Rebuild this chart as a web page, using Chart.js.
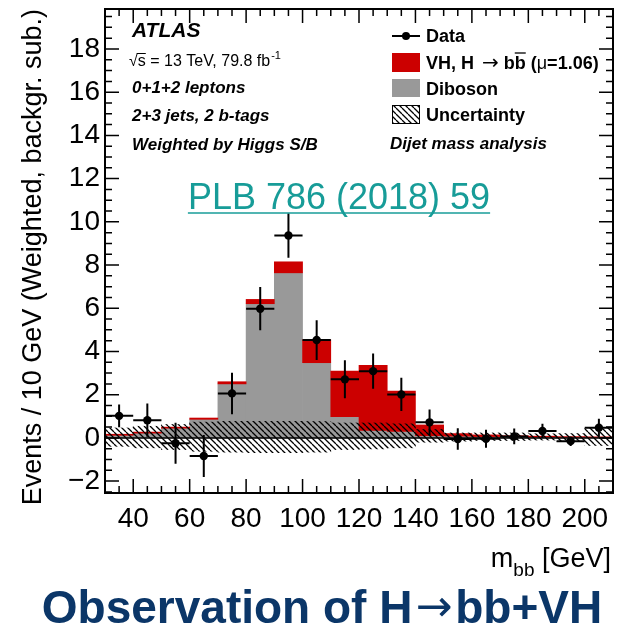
<!DOCTYPE html>
<html>
<head>
<meta charset="utf-8">
<script src="https://cdn.jsdelivr.net/npm/chart.js@4.4.1/dist/chart.umd.min.js"></script>
<style>
  html, body { margin: 0; padding: 0; background: #fff; }
  canvas { display: block; }
</style>
</head>
<body>
<canvas id="c" width="623" height="627"></canvas>
<script>
// m_bb bins, 10 GeV wide, centres
const binCentres = [35, 45, 55, 65, 75, 85, 95, 105, 115, 125, 135, 145, 155, 165, 175, 185, 195, 205];
// data (weighted, background subtracted) and its error
const dataValues = [1.02, 0.82, -0.25, -0.84, 2.06, 5.98, 9.37, 4.53, 2.71, 3.09, 2.01, 0.72, -0.05, -0.04, 0.07, 0.32, -0.15, 0.47];
const dataErrors = [0.53, 0.77, 0.95, 0.97, 0.96, 1.0, 1.03, 0.92, 0.88, 0.82, 0.77, 0.6, 0.5, 0.42, 0.36, 0.33, 0.22, 0.42];
// stacked expectation: diboson, then VH signal on top
const dibosonValues = [0.12, 0.22, 0.45, 0.86, 2.5, 6.21, 7.64, 3.48, 0.98, 0.35, 0.3, 0.1, 0.08, 0.06, 0.05, 0.04, 0.03, 0.02];
const vhValues = [0.05, 0.05, 0.05, 0.06, 0.1, 0.2, 0.51, 1.06, 2.11, 3.01, 1.87, 0.5, 0.12, 0.08, 0.05, 0.04, 0.03, 0.03];
// uncertainty band
const uncLow = [-0.39, -0.46, -0.54, -0.62, -0.66, -0.68, -0.68, -0.66, -0.54, -0.51, -0.46, -0.2, -0.15, -0.12, -0.12, -0.1, -0.15, -0.35];
const uncHigh = [0.46, 0.54, 0.62, 0.73, 0.77, 0.77, 0.77, 0.76, 0.69, 0.69, 0.65, 0.39, 0.23, 0.23, 0.23, 0.19, 0.2, 0.46];
// axis labels
const xTickLabels = [40, 60, 80, 100, 120, 140, 160, 180, 200];
const yTickLabels = [-2, 0, 2, 4, 6, 8, 10, 12, 14, 16, 18];

const FONT = '"Liberation Sans", Arial, Helvetica, sans-serif';
const ARROW_FONT = '"DejaVu Sans", sans-serif';
const RED = '#cc0000';
const GREY = '#999999';

function makeHatch() {
  const c = document.createElement('canvas');
  c.width = 6; c.height = 6;
  const g = c.getContext('2d');
  g.strokeStyle = '#000';
  g.lineWidth = 1.3;
  g.beginPath();
  for (const k of [-6, 0, 6]) { g.moveTo(k, 0); g.lineTo(k + 6, 6); }
  g.stroke();
  return g.createPattern(c, 'repeat');
}
const hatch = makeHatch();

function text(ctx, s, x, y, font, color, align) {
  ctx.font = font;
  ctx.fillStyle = color || '#000';
  ctx.textAlign = align || 'left';
  ctx.textBaseline = 'alphabetic';
  ctx.fillText(s, x, y);
  return ctx.measureText(s).width;
}
function measure(ctx, s, font) {
  ctx.font = font;
  return ctx.measureText(s).width;
}

// error bars + zero line, drawn just before the data markers
const errorBars = {
  id: 'errorBars',
  beforeDatasetDraw(chart, args) {
    if (args.index !== 0) return;
    const { ctx, chartArea: a, scales: { x, y } } = chart;
    ctx.save();
    ctx.beginPath();
    ctx.rect(a.left, a.top, a.right - a.left, a.bottom - a.top);
    ctx.clip();
    ctx.strokeStyle = '#000';
    ctx.lineWidth = 1.5;
    ctx.beginPath();
    ctx.moveTo(a.left, y.getPixelForValue(0));
    ctx.lineTo(a.right, y.getPixelForValue(0));
    ctx.stroke();
    ctx.lineWidth = 2;
    binCentres.forEach((c, i) => {
      const px = x.getPixelForValue(c);
      const py = y.getPixelForValue(dataValues[i]);
      ctx.beginPath();
      ctx.moveTo(x.getPixelForValue(c - 5), py);
      ctx.lineTo(x.getPixelForValue(c + 5), py);
      ctx.moveTo(px, y.getPixelForValue(dataValues[i] - dataErrors[i]));
      ctx.lineTo(px, y.getPixelForValue(dataValues[i] + dataErrors[i]));
      ctx.stroke();
    });
    ctx.restore();
  }
};

// ROOT-style frame with inward ticks on all sides, plus labels and legend
const rootFrame = {
  id: 'rootFrame',
  afterDraw(chart) {
    const { ctx, chartArea: a, scales: { x, y } } = chart;
    ctx.save();
    ctx.strokeStyle = '#000';
    ctx.lineWidth = 1.5;
    ctx.beginPath();
    for (let v = 30; v <= 210; v += 5) {
      const px = x.getPixelForValue(v);
      const len = v % 20 === 0 ? 14 : 7;
      ctx.moveTo(px, a.bottom); ctx.lineTo(px, a.bottom - len);
      ctx.moveTo(px, a.top); ctx.lineTo(px, a.top + len);
    }
    for (let v = -2.5; v <= 19.5; v += 0.5) {
      const py = y.getPixelForValue(v);
      const len = v % 2 === 0 ? 14 : 7;
      ctx.moveTo(a.left, py); ctx.lineTo(a.left + len, py);
      ctx.moveTo(a.right, py); ctx.lineTo(a.right - len, py);
    }
    ctx.stroke();
    ctx.lineWidth = 2;
    ctx.strokeRect(a.left, a.top, a.right - a.left, a.bottom - a.top);

    // x axis title m_bb [GeV]
    const w1 = measure(ctx, ' [GeV]', '27px ' + FONT);
    const wSub = measure(ctx, 'bb', '19px ' + FONT);
    const xr = 611;
    text(ctx, ' [GeV]', xr, 567, '27px ' + FONT, '#000', 'right');
    text(ctx, 'bb', xr - w1, 576, '19px ' + FONT, '#000', 'right');
    text(ctx, 'm', xr - w1 - wSub, 567, '27px ' + FONT, '#000', 'right');

    // left-hand labels
    text(ctx, 'ATLAS', 132, 37, 'italic bold 21px ' + FONT);
    let cx = 129;
    cx += text(ctx, '\u221a', cx, 66, '16px ' + FONT);
    const ws = text(ctx, 's', cx, 66, '16px ' + FONT);
    ctx.lineWidth = 1;
    ctx.beginPath(); ctx.moveTo(cx - 1, 53.5); ctx.lineTo(cx + ws, 53.5); ctx.stroke();
    cx += ws;
    cx += text(ctx, ' = 13 TeV, 79.8 fb', cx, 66, '16px ' + FONT);
    text(ctx, '-1', cx + 1, 59, '11px ' + FONT);
    text(ctx, '0+1+2 leptons', 132, 93, 'italic bold 17px ' + FONT);
    text(ctx, '2+3 jets, 2 b-tags', 132, 121, 'italic bold 17px ' + FONT);
    text(ctx, 'Weighted by Higgs S/B', 132, 150, 'italic bold 17px ' + FONT);
    text(ctx, 'Dijet mass analysis', 390, 149, 'italic bold 17px ' + FONT);

    // legend
    const LF = 'bold 18px ' + FONT;
    ctx.lineWidth = 2;
    ctx.beginPath(); ctx.moveTo(392, 36); ctx.lineTo(420, 36); ctx.stroke();
    ctx.fillStyle = '#000';
    ctx.beginPath(); ctx.arc(406, 36, 4, 0, Math.PI * 2); ctx.fill();
    text(ctx, 'Data', 426, 42, LF);
    ctx.fillStyle = RED; ctx.fillRect(392, 53, 28, 19);
    cx = 426;
    cx += text(ctx, 'VH, H', cx, 69, LF);
    cx += 8;
    cx += text(ctx, '\u2192', cx, 69, '20px ' + ARROW_FONT);
    cx += 5;
    cx += text(ctx, 'b', cx, 69, LF);
    const wb = text(ctx, 'b', cx, 69, LF);
    ctx.strokeStyle = '#000';
    ctx.lineWidth = 1.3;
    ctx.beginPath(); ctx.moveTo(cx, 53); ctx.lineTo(cx + wb, 53); ctx.stroke();
    cx += wb;
    cx += text(ctx, ' (', cx, 69, LF);
    cx += text(ctx, '\u03bc', cx, 69, '18px ' + FONT);
    text(ctx, '=1.06)', cx, 69, LF);
    ctx.fillStyle = GREY; ctx.fillRect(392, 79, 28, 18);
    text(ctx, 'Diboson', 426, 95, LF);
    ctx.fillStyle = hatch; ctx.fillRect(392, 105, 28, 19);
    ctx.lineWidth = 1; ctx.strokeRect(392.5, 105.5, 27, 18);
    text(ctx, 'Uncertainty', 426, 121, LF);

    // reference link
    const wl = text(ctx, 'PLB 786 (2018) 59', 339, 209, '36px ' + FONT, '#179c98', 'center');
    ctx.strokeStyle = '#179c98';
    ctx.lineWidth = 1.5;
    ctx.beginPath(); ctx.moveTo(339 - wl / 2, 213); ctx.lineTo(339 + wl / 2, 213); ctx.stroke();

    // headline, arrow in a font with a long arrow glyph
    const HF = 'bold 46px ' + FONT;
    const AF = '44px ' + ARROW_FONT;
    const p1 = 'Observation of H', p3 = 'bb+VH';
    const wa = measure(ctx, '\u2192', AF);
    const total = measure(ctx, p1, HF) + 3 + wa + 3 + measure(ctx, p3, HF);
    cx = 322 - total / 2;
    cx += text(ctx, p1, cx, 623, HF, '#0b3668') + 3;
    cx += text(ctx, '\u2192', cx, 621, AF, '#0b3668') + 3;
    text(ctx, p3, cx, 623, HF, '#0b3668');
    ctx.restore();
  }
};

const pts = (vals) => binCentres.map((x, i) => ({ x, y: vals(i) }));

new Chart(document.getElementById('c').getContext('2d'), {
  type: 'bar',
  data: {
    datasets: [
      {
        type: 'line', label: 'Data', order: 0,
        data: pts(i => dataValues[i]),
        showLine: false, pointRadius: 4.2, pointHoverRadius: 4.2,
        pointBackgroundColor: '#000', pointBorderWidth: 0
      },
      { label: 'Uncertainty', order: 1, data: pts(i => [uncLow[i], uncHigh[i]]), backgroundColor: hatch },
      { label: 'VH, H \u2192 bb', order: 2, data: pts(i => [dibosonValues[i], dibosonValues[i] + vhValues[i]]), backgroundColor: RED },
      { label: 'Diboson', order: 3, data: pts(i => [0, dibosonValues[i]]), backgroundColor: GREY }
    ]
  },
  options: {
    responsive: false,
    animation: false,
    devicePixelRatio: 1,
    layout: { padding: { top: 9, right: 10, left: 0, bottom: 0 } },
    datasets: { bar: { grouped: false, barPercentage: 1, categoryPercentage: 1, borderWidth: 0 } },
    plugins: { legend: { display: false }, tooltip: { enabled: false } },
    scales: {
      x: {
        type: 'linear', min: 30, max: 210, offset: false,
        grid: { display: false, drawTicks: false }, border: { display: false },
        afterBuildTicks: s => { s.ticks = xTickLabels.map(v => ({ value: v })); },
        ticks: { font: { family: FONT, size: 28 }, color: '#000', padding: 9, maxRotation: 0, autoSkip: false },
        afterFit: s => { s.height = 134; s.paddingLeft = 0; s.paddingRight = 0; }
      },
      y: {
        min: -2.55, max: 19.85,
        grid: { display: false, drawTicks: false }, border: { display: false },
        afterBuildTicks: s => { s.ticks = yTickLabels.map(v => ({ value: v })); },
        ticks: {
          font: { family: FONT, size: 28 }, color: '#000', padding: 5, autoSkip: false,
          callback: v => v < 0 ? '\u2212' + Math.abs(v) : String(v)
        },
        title: {
          display: true, text: 'Events / 10 GeV (Weighted, backgr. sub.)', align: 'end',
          font: { family: FONT, size: 27 }, color: '#000', padding: { top: 17, bottom: 0 }
        },
        afterFit: s => { s.width = 105; s.paddingTop = 0; s.paddingBottom = 0; }
      }
    }
  },
  plugins: [errorBars, rootFrame]
});
</script>
</body>
</html>
